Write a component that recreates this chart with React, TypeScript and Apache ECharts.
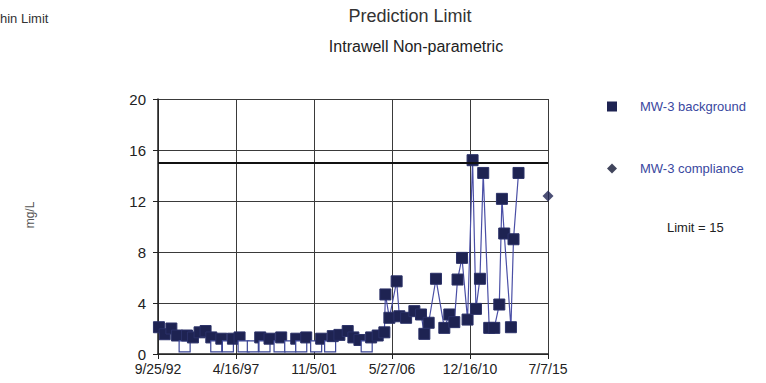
import React, { useEffect, useRef } from "react";
import * as echarts from "echarts";

// Background sampling dates and concentrations (mg/L) for MW-3
const bgDates = [
  "1992-10-15", "1993-02-15", "1993-07-07", "1993-11-03", "1994-04-16", "1994-06-05",
  "1994-10-10", "1995-03-01", "1995-07-07", "1995-11-06", "1996-02-20", "1996-06-07",
  "1996-10-25", "1997-02-09", "1997-07-01", "1997-09-25", "1998-04-10", "1998-09-15",
  "1998-12-15", "1999-04-01", "1999-11-01", "1999-12-06", "2000-06-16", "2000-10-22",
  "2001-02-06", "2001-05-23", "2001-12-21", "2002-04-07", "2002-10-15", "2002-12-10",
  "2003-05-01", "2003-10-25", "2004-02-23", "2004-07-01", "2004-12-03", "2005-03-08",
  "2005-07-26", "2005-12-15", "2006-01-06", "2006-04-01", "2006-09-03", "2006-10-31",
  "2007-03-24", "2007-09-16", "2008-02-05", "2008-04-16", "2008-07-17", "2008-12-20",
  "2009-06-16", "2009-10-01", "2010-01-15", "2010-03-25", "2010-06-28", "2010-10-25",
  "2011-02-09", "2011-04-22", "2011-07-16", "2011-09-24", "2012-01-30", "2012-05-17",
  "2012-09-01", "2012-10-27", "2012-12-15", "2013-05-07", "2013-07-01", "2013-10-16",
];
const bgValues = [
  2.1, 1.55, 2.0, 1.45, 0.6, 1.45,
  1.3, 1.7, 1.8, 1.3, 0.6, 1.2,
  0.6, 1.2, 1.3, 0.6, 0.6, 1.3,
  0.6, 1.2, 0.6, 1.3, 0.6, 1.2,
  0.6, 1.3, 0.6, 1.2, 0.6, 1.4,
  1.5, 1.8, 1.3, 1.1, 0.6, 1.3,
  1.45, 1.7, 4.67, 2.84, 5.7, 2.96,
  2.84, 3.36, 3.1, 1.58, 2.45, 5.9,
  2.05, 3.1, 2.5, 5.84, 7.54, 2.7,
  15.2, 3.54, 5.9, 14.2, 2.05, 2.05,
  3.88, 12.17, 9.45, 2.1, 9.0, 14.2,
];
// true = non-detect (hollow marker)
const bgNonDetect = [
  false, false, false, false, true, false,
  false, false, false, false, true, false,
  true, false, false, true, true, false,
  true, false, true, false, true, false,
  true, false, true, false, true, false,
  false, false, false, false, true, false,
  false, false, false, false, false, false,
  false, false, false, false, false, false,
  false, false, false, false, false, false,
  false, false, false, false, false, false,
  false, false, false, false, false, false,
];

const compDates = ["2015-07-07"];
const compValues = [12.4];

const limitValue = 15;

const BASE_DATE = "1992-09-25";
const X_INTERVAL_DAYS = 1664;
const X_MAX_DAYS = 8320;
const Y_TICKS = { min: 0, max: 20, interval: 4 };

const DAY = 86400000;
const baseMs = Date.parse(BASE_DATE + "T00:00:00Z");
const toDays = (s: string) => (Date.parse(s + "T00:00:00Z") - baseMs) / DAY;
const fmtDate = (v: number) => {
  const d = new Date(baseMs + Math.round(v) * DAY);
  const yy = String(d.getUTCFullYear() % 100).padStart(2, "0");
  return `${d.getUTCMonth() + 1}/${d.getUTCDate()}/${yy}`;
};

const FONT = "Liberation Sans, Arial, sans-serif";
const NAVY = "#1e2352";
const LINE_BLUE = "#4a4fa6";

export default function App() {
  const ref = useRef<HTMLDivElement>(null);
  useEffect(() => {
    if (!ref.current) return;
    const chart = echarts.init(ref.current, undefined, { renderer: "svg" });
    const bgData = bgDates.map((d, i) => ({
      value: [toDays(d), bgValues[i]],
      itemStyle: bgNonDetect[i]
        ? { color: "#ffffff", borderColor: "#3b4596", borderWidth: 1.2 }
        : { color: NAVY, borderColor: "#2b3168", borderWidth: 1 },
    }));
    const compData = compDates.map((d, i) => [toDays(d), compValues[i]]);
    chart.setOption({
      animation: false,
      backgroundColor: "#ffffff",
      textStyle: { fontFamily: FONT },
      grid: { left: 158, right: 218, top: 99, bottom: 29, containLabel: false },
      xAxis: {
        type: "value",
        min: 0,
        max: X_MAX_DAYS,
        interval: X_INTERVAL_DAYS,
        axisLine: { show: true, lineStyle: { color: "#222", width: 1.5 } },
        axisTick: { show: true, length: 5, lineStyle: { color: "#222" } },
        axisLabel: {
          formatter: (v: number) => fmtDate(v),
          color: "#222",
          fontSize: 14,
          fontFamily: FONT,
          margin: 8,
        },
        splitLine: { show: true, lineStyle: { color: "#3a3a3a", width: 1 } },
      },
      yAxis: {
        type: "value",
        min: Y_TICKS.min,
        max: Y_TICKS.max,
        interval: Y_TICKS.interval,
        axisLine: { show: true, lineStyle: { color: "#222", width: 1.5 } },
        axisTick: { show: true, length: 5, lineStyle: { color: "#222" } },
        axisLabel: { color: "#222", fontSize: 15, fontFamily: FONT, margin: 12 },
        splitLine: { show: true, lineStyle: { color: "#3a3a3a", width: 1 } },
      },
      legend: {
        orient: "vertical",
        left: 602,
        top: 95,
        itemGap: 49,
        itemWidth: 10,
        itemHeight: 10,
        textStyle: { color: "#3a48a0", fontSize: 13, fontFamily: FONT, padding: [0, 0, 0, 18] },
        data: [
          { name: "MW-3 background", icon: "rect", itemStyle: { color: NAVY } },
          { name: "MW-3 compliance", icon: "diamond", itemStyle: { color: "#111633" } },
        ],
      },
      graphic: [
        {
          type: "text",
          x: 410,
          y: 16,
          style: {
            text: "Prediction Limit",
            fill: "#333",
            font: `18px ${FONT}`,
            textAlign: "center",
            textVerticalAlign: "middle",
          },
        },
        {
          type: "text",
          x: 416,
          y: 46,
          style: {
            text: "Intrawell Non-parametric",
            fill: "#222",
            font: `16px ${FONT}`,
            textAlign: "center",
            textVerticalAlign: "middle",
          },
        },
        {
          type: "text",
          x: 0,
          y: 18,
          style: {
            text: "hin Limit",
            fill: "#333",
            font: `13px ${FONT}`,
            textAlign: "left",
            textVerticalAlign: "middle",
          },
        },
        {
          type: "text",
          x: 30,
          y: 215,
          rotation: Math.PI / 2,
          style: {
            text: "mg/L",
            fill: "#555",
            font: `12px ${FONT}`,
            textAlign: "center",
            textVerticalAlign: "middle",
          },
        },
        {
          type: "text",
          x: 667,
          y: 227,
          style: {
            text: "Limit = 15",
            fill: "#222",
            font: `13px ${FONT}`,
            textAlign: "left",
            textVerticalAlign: "middle",
          },
        },
      ],
      series: [
        {
          name: "MW-3 background",
          type: "line",
          data: bgData,
          symbol: "rect",
          symbolSize: 11,
          showAllSymbol: true,
          itemStyle: { color: NAVY },
          lineStyle: { color: LINE_BLUE, width: 1.2 },
          z: 3,
          markLine: {
            silent: true,
            symbol: "none",
            label: { show: false },
            lineStyle: { color: "#111", width: 2, type: "solid" },
            data: [{ yAxis: limitValue }],
          },
        },
        {
          name: "MW-3 compliance",
          type: "scatter",
          data: compData,
          symbol: "diamond",
          symbolSize: 11,
          itemStyle: { color: NAVY },
          z: 4,
        },
      ],
    });
    return () => chart.dispose();
  }, []);
  return (
    <div
      ref={ref}
      style={{ position: "fixed", left: 0, top: 0, width: 766, height: 383 }}
    />
  );
}
